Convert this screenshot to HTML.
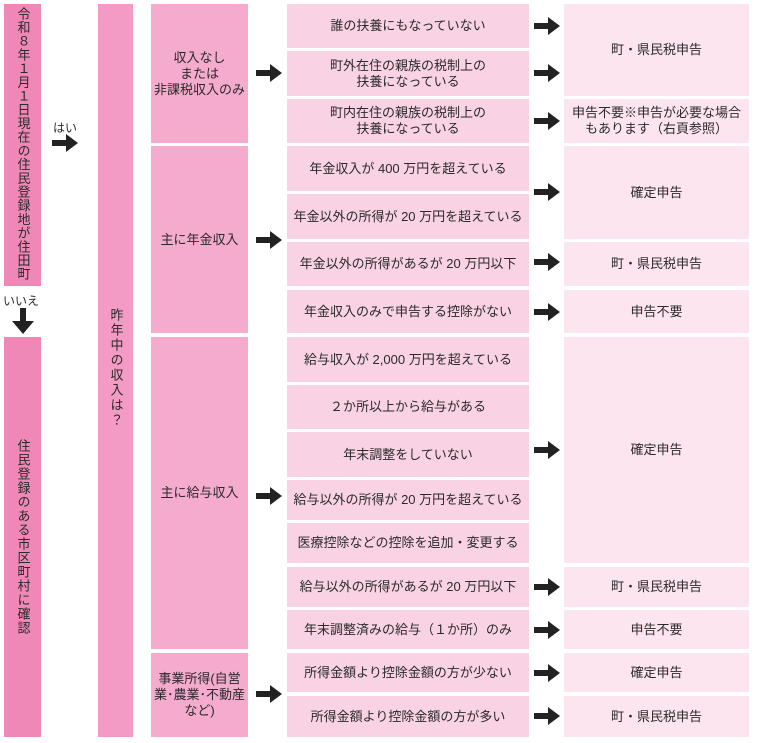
<!DOCTYPE html>
<html><head><meta charset="utf-8"><style>
body{margin:0;width:781px;height:743px;background:#fff;position:relative;overflow:hidden;font-family:"Liberation Sans","Noto Sans CJK JP",sans-serif;color:#2a2a2a;}
.b{position:absolute;display:flex;align-items:center;justify-content:center;text-align:center;font-size:13px;line-height:16px;}
.c1{background:#f088b7;}
.c2{background:#f39bc4;}
.c3{background:#f5abcd;}
.c4{background:#f9d3e3;}
.c5{background:#fde5ef;}
.v{writing-mode:vertical-rl;font-size:13px;line-height:16px;box-sizing:border-box;white-space:nowrap;overflow:hidden;}
svg.a{position:absolute;width:26px;height:18px;}
.t{position:absolute;font-size:12px;}
</style></head><body>
<div class="b c1 v" style="left:4px;top:4px;width:37px;height:282px;justify-content:flex-start;padding-top:3px;letter-spacing:0.7px;">令和８年１月１日現在の住民登録地が住田町</div>
<div class="b c1 v" style="left:4px;top:337px;width:37px;height:400px;letter-spacing:1px;">住民登録のある市区町村に確認</div>
<div class="b c2 v" style="left:98px;top:4px;width:35px;height:733px;justify-content:flex-start;padding-top:304px;letter-spacing:2px;">昨年中の収入は？</div>
<div class="t" style="left:53px;top:119px;">はい</div>
<svg class="a" style="left:52px;top:134px" viewBox="0 0 26 18"><polygon points="0,6 14,6 14,0 26,9 14,18 14,12 0,12" fill="#222"/></svg>
<div class="t" style="left:3px;top:292px;">いいえ</div>
<svg style="position:absolute;left:10px;top:308px;width:26px;height:26px" viewBox="0 0 26 26"><polygon points="10,0 16,0 16,13 24,13 13,26 2,13 10,13" fill="#222"/></svg>

<div class="b c3" style="left:151px;top:4px;width:97px;height:139px;">収入なし<br>または<br>非課税収入のみ</div>
<div class="b c3" style="left:151px;top:146px;width:97px;height:187px;">主に年金収入</div>
<div class="b c3" style="left:151px;top:337px;width:97px;height:312px;">主に給与収入</div>
<div class="b c3" style="left:151px;top:653px;width:97px;height:84px;">事業所得(自営<br>業･農業･不動産<br>など)</div>

<div class="b c4" style="left:287px;top:4px;width:242px;height:44px;">誰の扶養にもなっていない</div>
<div class="b c4" style="left:287px;top:51px;width:242px;height:45px;">町外在住の親族の税制上の<br>扶養になっている</div>
<div class="b c4" style="left:287px;top:99px;width:242px;height:44px;">町内在住の親族の税制上の<br>扶養になっている</div>
<div class="b c4" style="left:287px;top:146px;width:242px;height:45px;">年金収入が 400 万円を超えている</div>
<div class="b c4" style="left:287px;top:194px;width:242px;height:45px;">年金以外の所得が 20 万円を超えている</div>
<div class="b c4" style="left:287px;top:242px;width:242px;height:44px;">年金以外の所得があるが 20 万円以下</div>
<div class="b c4" style="left:287px;top:290px;width:242px;height:43px;">年金収入のみで申告する控除がない</div>
<div class="b c4" style="left:287px;top:337px;width:242px;height:45px;">給与収入が 2,000 万円を超えている</div>
<div class="b c4" style="left:287px;top:385px;width:242px;height:44px;">２か所以上から給与がある</div>
<div class="b c4" style="left:287px;top:432px;width:242px;height:45px;">年末調整をしていない</div>
<div class="b c4" style="left:287px;top:480px;width:242px;height:40px;">給与以外の所得が 20 万円を超えている</div>
<div class="b c4" style="left:287px;top:523px;width:242px;height:40px;">医療控除などの控除を追加・変更する</div>
<div class="b c4" style="left:287px;top:567px;width:242px;height:40px;">給与以外の所得があるが 20 万円以下</div>
<div class="b c4" style="left:287px;top:610px;width:242px;height:39px;">年末調整済みの給与（１か所）のみ</div>
<div class="b c4" style="left:287px;top:653px;width:242px;height:39px;">所得金額より控除金額の方が少ない</div>
<div class="b c4" style="left:287px;top:696px;width:242px;height:41px;">所得金額より控除金額の方が多い</div>

<div class="b c5" style="left:564px;top:4px;width:185px;height:92px;">町・県民税申告</div>
<div class="b c5" style="left:564px;top:99px;width:185px;height:44px;">申告不要※申告が必要な場合<br>もあります（右頁参照）</div>
<div class="b c5" style="left:564px;top:146px;width:185px;height:93px;">確定申告</div>
<div class="b c5" style="left:564px;top:242px;width:185px;height:44px;">町・県民税申告</div>
<div class="b c5" style="left:564px;top:290px;width:185px;height:43px;">申告不要</div>
<div class="b c5" style="left:564px;top:337px;width:185px;height:226px;">確定申告</div>
<div class="b c5" style="left:564px;top:567px;width:185px;height:40px;">町・県民税申告</div>
<div class="b c5" style="left:564px;top:610px;width:185px;height:39px;">申告不要</div>
<div class="b c5" style="left:564px;top:653px;width:185px;height:39px;">確定申告</div>
<div class="b c5" style="left:564px;top:696px;width:185px;height:41px;">町・県民税申告</div>

<svg class="a" style="left:256px;top:64px" viewBox="0 0 26 18"><polygon points="0,6 14,6 14,0 26,9 14,18 14,12 0,12" fill="#222"/></svg>
<svg class="a" style="left:256px;top:231px" viewBox="0 0 26 18"><polygon points="0,6 14,6 14,0 26,9 14,18 14,12 0,12" fill="#222"/></svg>
<svg class="a" style="left:256px;top:487px" viewBox="0 0 26 18"><polygon points="0,6 14,6 14,0 26,9 14,18 14,12 0,12" fill="#222"/></svg>
<svg class="a" style="left:256px;top:685px" viewBox="0 0 26 18"><polygon points="0,6 14,6 14,0 26,9 14,18 14,12 0,12" fill="#222"/></svg>
<svg class="a" style="left:534px;top:17px" viewBox="0 0 26 18"><polygon points="0,6 14,6 14,0 26,9 14,18 14,12 0,12" fill="#222"/></svg>
<svg class="a" style="left:534px;top:64px" viewBox="0 0 26 18"><polygon points="0,6 14,6 14,0 26,9 14,18 14,12 0,12" fill="#222"/></svg>
<svg class="a" style="left:534px;top:112px" viewBox="0 0 26 18"><polygon points="0,6 14,6 14,0 26,9 14,18 14,12 0,12" fill="#222"/></svg>
<svg class="a" style="left:534px;top:183px" viewBox="0 0 26 18"><polygon points="0,6 14,6 14,0 26,9 14,18 14,12 0,12" fill="#222"/></svg>
<svg class="a" style="left:534px;top:253px" viewBox="0 0 26 18"><polygon points="0,6 14,6 14,0 26,9 14,18 14,12 0,12" fill="#222"/></svg>
<svg class="a" style="left:534px;top:303px" viewBox="0 0 26 18"><polygon points="0,6 14,6 14,0 26,9 14,18 14,12 0,12" fill="#222"/></svg>
<svg class="a" style="left:534px;top:441px" viewBox="0 0 26 18"><polygon points="0,6 14,6 14,0 26,9 14,18 14,12 0,12" fill="#222"/></svg>
<svg class="a" style="left:534px;top:578px" viewBox="0 0 26 18"><polygon points="0,6 14,6 14,0 26,9 14,18 14,12 0,12" fill="#222"/></svg>
<svg class="a" style="left:534px;top:621px" viewBox="0 0 26 18"><polygon points="0,6 14,6 14,0 26,9 14,18 14,12 0,12" fill="#222"/></svg>
<svg class="a" style="left:534px;top:664px" viewBox="0 0 26 18"><polygon points="0,6 14,6 14,0 26,9 14,18 14,12 0,12" fill="#222"/></svg>
<svg class="a" style="left:534px;top:707px" viewBox="0 0 26 18"><polygon points="0,6 14,6 14,0 26,9 14,18 14,12 0,12" fill="#222"/></svg>
</body></html>
